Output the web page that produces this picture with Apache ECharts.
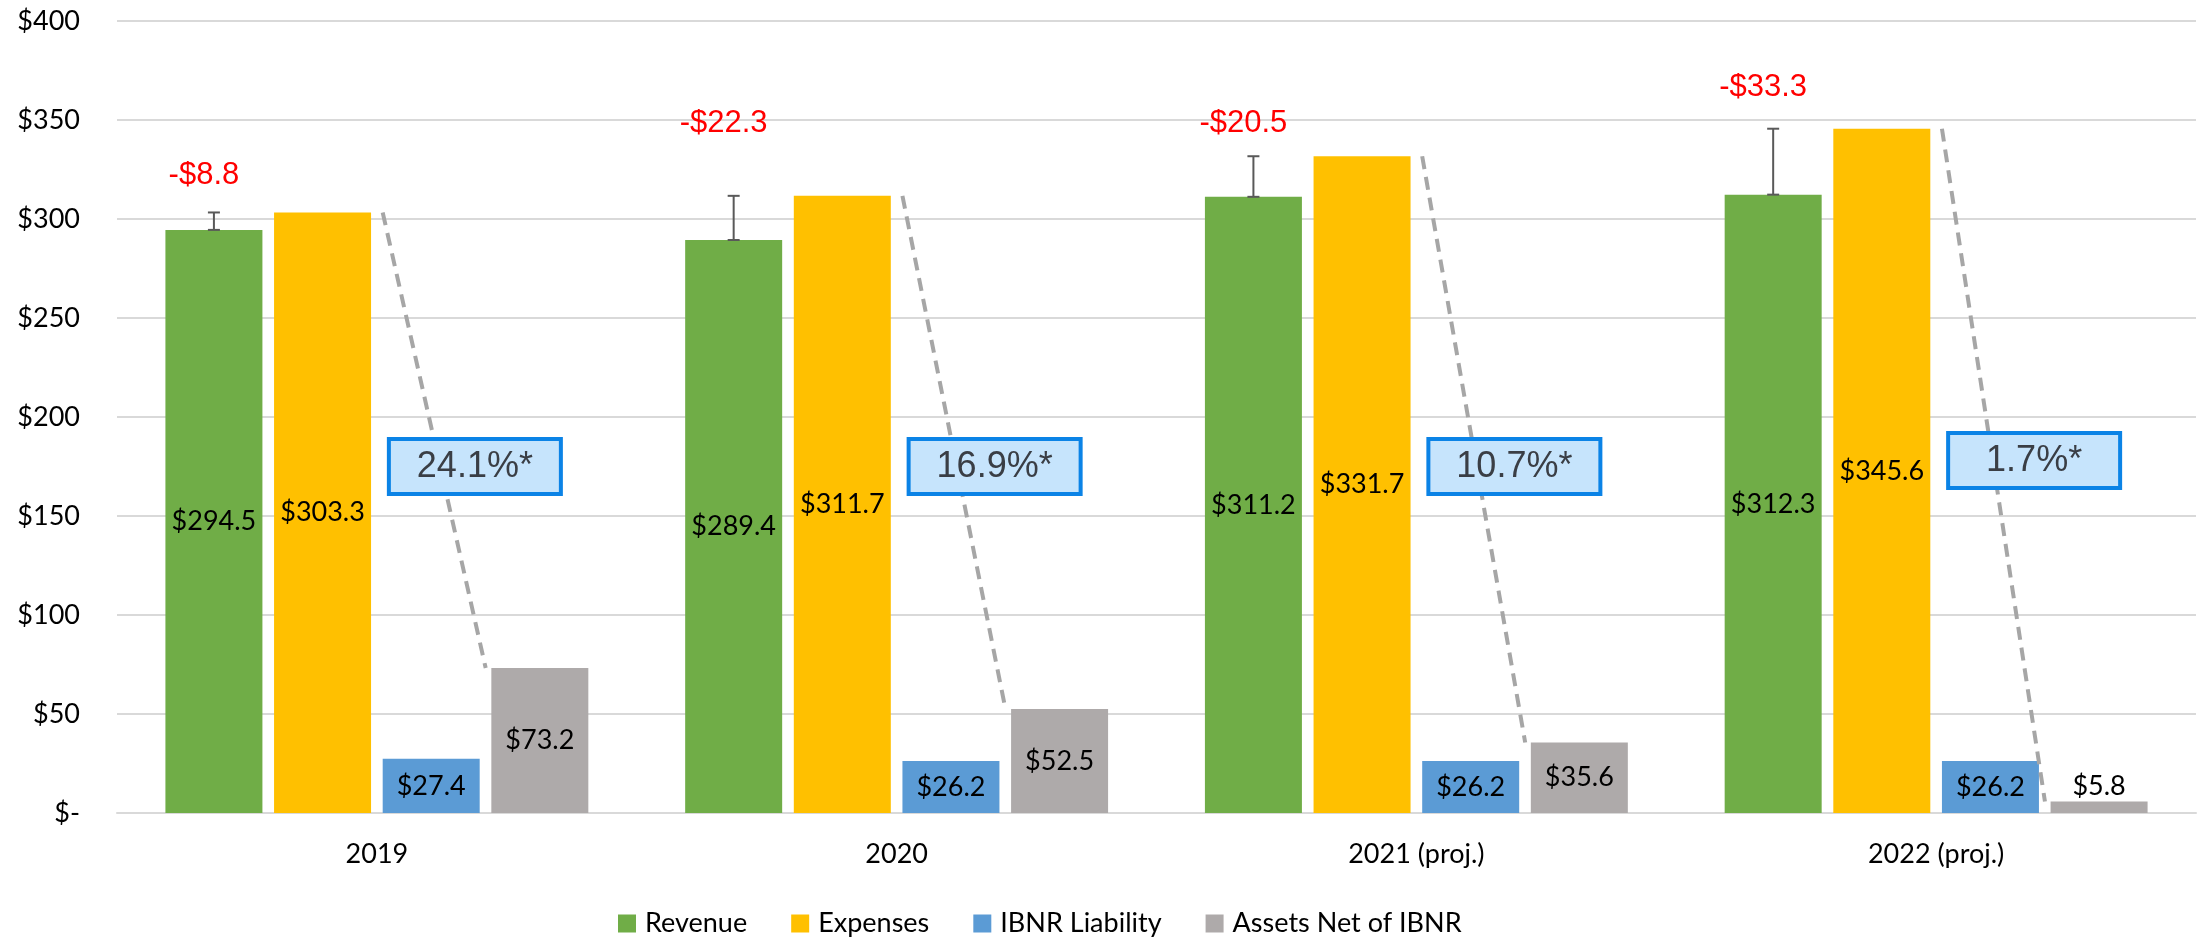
<!DOCTYPE html>
<html>
<head>
<meta charset="utf-8">
<script src="https://cdn.jsdelivr.net/npm/echarts@6/dist/echarts.min.js"></script>
<style>
  html, body { margin: 0; padding: 0; background: #fff; }
  #main { width: 2200px; height: 937px; }
</style>
</head>
<body>
<div id="main"></div>
<script>
// values ($ millions)
var years = ['2019', '2020', '2021 (proj.)', '2022 (proj.)'];
var revenue = [294.5, 289.4, 311.2, 312.3];
var expenses = [303.3, 311.7, 331.7, 345.6];
var ibnr = [27.4, 26.2, 26.2, 26.2];
var assetsNet = [73.2, 52.5, 35.6, 5.8];
var netResult = [-8.8, -22.3, -20.5, -33.3];
var assetRatio = ['24.1%*', '16.9%*', '10.7%*', '1.7%*'];
var yTicks = { min: 0, max: 400, interval: 50 };

// layout / style bits
var BAR_W = 97;
var GAP = 0.12 * BAR_W;
var STEP = BAR_W + GAP;
var netLift = [37, 72, 33, 41];          // px above error-bar top
var calloutLevel = [175, 175, 175, 178]; // y level of the % boxes
var FONT = 'Lato, "Liberation Sans", sans-serif';

var myChart = echarts.init(document.getElementById('main'));

function money(v) { return '$' + v.toFixed(1); }

var labelStyle = {
    show: true,
    position: 'inside',
    color: '#000',
    fontFamily: FONT,
    fontSize: 27,
    formatter: function (p) { return money(p.value); }
};

function barSeries(name, data, color) {
    return {
        name: name,
        type: 'bar',
        barWidth: BAR_W,
        barGap: '12%',
        itemStyle: { color: color },
        label: labelStyle,
        data: data
    };
}

// last Assets bar is too short, label sits above it
var assetsData = assetsNet.map(function (v, i) {
    if (i === assetsNet.length - 1) {
        return { value: v, label: { position: 'top', distance: 2 } };
    }
    return v;
});

var overlayData = years.map(function (y, i) {
    return [i, revenue[i], expenses[i], ibnr[i], assetsNet[i]];
});

function renderOverlay(params, api) {
    var i = api.value(0);
    var cx = api.coord([i, 0])[0];
    var yRev = api.coord([i, api.value(1)])[1];
    var yExp = api.coord([i, api.value(2)])[1];
    var yAst = api.coord([i, api.value(4)])[1];
    var revX = cx - 1.5 * STEP;
    var ibnrL = cx + 0.5 * STEP - BAR_W / 2;
    var ibnrR = ibnrL + BAR_W;
    var boxY = api.coord([i, calloutLevel[i]])[1];
    var boxX = cx + 98;
    var errStyle = { stroke: '#595959', lineWidth: 2 };

    return {
        type: 'group',
        children: [
            {
                type: 'line',
                shape: { x1: ibnrL, y1: yExp, x2: ibnrR + 6, y2: yAst },
                style: { stroke: '#a6a6a6', lineWidth: 4, lineDash: [13, 8] }
            },
            { type: 'line', shape: { x1: revX, y1: yRev, x2: revX, y2: yExp }, style: errStyle },
            { type: 'line', shape: { x1: revX - 6, y1: yExp, x2: revX + 6, y2: yExp }, style: errStyle },
            { type: 'line', shape: { x1: revX - 6, y1: yRev, x2: revX + 6, y2: yRev }, style: errStyle },
            {
                type: 'text',
                x: revX - 10,
                y: yExp - netLift[i],
                style: {
                    text: '-$' + Math.abs(netResult[i]).toFixed(1),
                    fill: '#ff0000',
                    font: '31px "Liberation Sans", Arial, sans-serif',
                    align: 'center',
                    verticalAlign: 'middle'
                }
            },
            {
                type: 'rect',
                shape: { x: boxX - 86, y: boxY - 27.5, width: 172, height: 55 },
                style: { fill: '#c6e4fc', stroke: '#0b83e6', lineWidth: 4 }
            },
            {
                type: 'text',
                x: boxX,
                y: boxY + 1,
                style: {
                    text: assetRatio[i],
                    fill: '#3a3e45',
                    font: '36px "Liberation Sans", Arial, sans-serif',
                    align: 'center',
                    verticalAlign: 'middle'
                }
            }
        ]
    };
}

var option = {
    backgroundColor: '#fff',
    animation: false,
    grid: { left: 117, right: 4, top: 21, bottom: 124, containLabel: false },
    legend: {
        data: ['Revenue', 'Expenses', 'IBNR Liability', 'Assets Net of IBNR'],
        left: 613,
        top: 905,
        icon: 'rect',
        itemWidth: 18,
        itemHeight: 18,
        itemGap: 44,
        textStyle: { fontFamily: FONT, fontSize: 27, color: '#000', padding: [0, 0, 0, 4] }
    },
    xAxis: {
        type: 'category',
        data: years,
        axisLine: { lineStyle: { color: '#d9d9d9', width: 2 } },
        axisTick: { show: false },
        axisLabel: { color: '#000', fontFamily: FONT, fontSize: 27, margin: 28 }
    },
    yAxis: {
        type: 'value',
        min: yTicks.min,
        max: yTicks.max,
        interval: yTicks.interval,
        axisLine: { show: false },
        axisTick: { show: false },
        splitLine: { lineStyle: { color: '#d9d9d9', width: 2 } },
        axisLabel: {
            color: '#000',
            fontFamily: FONT,
            fontSize: 27,
            margin: 37,
            formatter: function (v) { return v === 0 ? '$-' : '$' + v; }
        }
    },
    series: [
        barSeries('Revenue', revenue, '#70ad47'),
        barSeries('Expenses', expenses, '#ffc000'),
        barSeries('IBNR Liability', ibnr, '#5b9bd5'),
        barSeries('Assets Net of IBNR', assetsData, '#aeaaaa'),
        {
            name: 'overlay',
            type: 'custom',
            z: 5,
            clip: false,
            silent: true,
            renderItem: renderOverlay,
            encode: { x: 0, y: [1, 2, 4] },
            data: overlayData
        }
    ]
};

myChart.setOption(option);
</script>
</body>
</html>
